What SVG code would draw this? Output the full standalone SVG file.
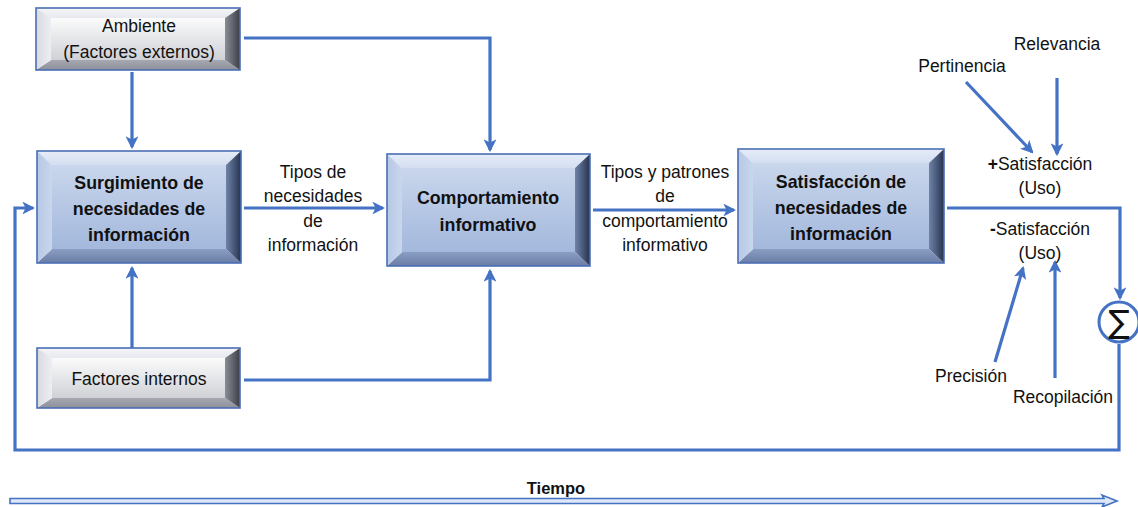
<svg xmlns="http://www.w3.org/2000/svg" width="1138" height="507" viewBox="0 0 1138 507">
<defs>
<style>
.t{font-family:"Liberation Sans",Arial,sans-serif;font-size:17.5px;fill:#111;text-anchor:middle}
.b{font-family:"Liberation Sans",Arial,sans-serif;font-size:17.8px;font-weight:bold;fill:#111;text-anchor:middle}
.c{fill:none;stroke:#4472C4;stroke-width:3.2;stroke-linejoin:miter}
.ca{fill:none;stroke:#4472C4;stroke-width:3.2;stroke-linejoin:miter;marker-end:url(#ah)}
.edge{fill:none;stroke:#4a6fb5;stroke-width:1.6}
</style>
<marker id="ah" viewBox="0 0 12 12" refX="10" refY="6" markerWidth="4" markerHeight="4" orient="auto" markerUnits="strokeWidth">
<path d="M0,0 L12,6 L0,12 L3,6 Z" fill="#4472C4"/>
</marker>
<linearGradient id="faceB" x1="0" y1="0" x2="0" y2="1"><stop offset="0" stop-color="#c9d6ec"/><stop offset="1" stop-color="#a3b8dc"/></linearGradient>
<linearGradient id="topB" x1="0" y1="0" x2="0" y2="1"><stop offset="0" stop-color="#e6edf8"/><stop offset="1" stop-color="#d3def0"/></linearGradient>
<linearGradient id="leftB" x1="0" y1="0" x2="1" y2="0"><stop offset="0" stop-color="#b7c8e6"/><stop offset="1" stop-color="#c9d6ec"/></linearGradient>
<linearGradient id="rightB" x1="0" y1="0" x2="1" y2="0"><stop offset="0" stop-color="#6f83a8"/><stop offset="1" stop-color="#26334f"/></linearGradient>
<linearGradient id="botB" x1="0" y1="0" x2="0" y2="1"><stop offset="0" stop-color="#8a9dc2"/><stop offset="1" stop-color="#6a7ea6"/></linearGradient>
<linearGradient id="faceG" x1="0" y1="0" x2="0" y2="1"><stop offset="0" stop-color="#fbfbfb"/><stop offset="1" stop-color="#cfd1d6"/></linearGradient>
<linearGradient id="topG" x1="0" y1="0" x2="0" y2="1"><stop offset="0" stop-color="#f4f5f8"/><stop offset="1" stop-color="#e8e9ee"/></linearGradient>
<linearGradient id="leftG" x1="0" y1="0" x2="1" y2="0"><stop offset="0" stop-color="#d8dae0"/><stop offset="1" stop-color="#eceef2"/></linearGradient>
<linearGradient id="rightG" x1="0" y1="0" x2="1" y2="0"><stop offset="0" stop-color="#8a8d96"/><stop offset="1" stop-color="#3b3e46"/></linearGradient>
<linearGradient id="botG" x1="0" y1="0" x2="0" y2="1"><stop offset="0" stop-color="#a6a9b1"/><stop offset="1" stop-color="#8d9099"/></linearGradient>
</defs>
<rect width="1138" height="507" fill="#ffffff"/>

<g id="connectors">
<path class="ca" d="M132,72 V147"/>
<path class="ca" d="M244,38 H490 V150"/>
<path class="ca" d="M244,208 H383"/>
<path class="ca" d="M132,348 V268"/>
<path class="ca" d="M244,380 H490 V271"/>
<path class="ca" d="M593,210 H734"/>
<path class="ca" d="M947,208 H1120 V298"/>
<path class="ca" d="M1119,344 V450 H15 V208 H33"/>
<path class="ca" d="M966,82 L1032,152"/>
<path class="ca" d="M1057,78 V154"/>
<path class="ca" d="M995,362 L1023,268"/>
<path class="ca" d="M1055,378 V262"/>
</g>

<g id="sum">
<circle cx="1119" cy="322" r="20" fill="#ffffff" stroke="#4472C4" stroke-width="3"/>
<text x="1119" y="333" style="font-family:'DejaVu Sans',sans-serif;font-size:32px;fill:#111;text-anchor:middle">∑</text>
</g>

<g id="ambiente">
<polygon points="36,8 240,8 225,18 51,18" fill="url(#topG)"/>
<polygon points="36,70 240,70 225,60 51,60" fill="url(#botG)"/>
<polygon points="36,8 51,18 51,60 36,70" fill="url(#leftG)"/>
<polygon points="240,8 225,18 225,60 240,70" fill="url(#rightG)"/>
<rect x="51" y="18" width="174" height="42" fill="url(#faceG)"/>
<rect x="36" y="8" width="204" height="62" class="edge"/>
<text class="t" x="139" y="32">Ambiente</text>
<text class="t" x="139" y="58">(Factores externos)</text>
</g>

<g id="surgimiento">
<polygon points="37,151 241,151 226,165 52,165" fill="url(#topB)"/>
<polygon points="37,263 241,263 226,249 52,249" fill="url(#botB)"/>
<polygon points="37,151 52,165 52,249 37,263" fill="url(#leftB)"/>
<polygon points="241,151 226,165 226,249 241,263" fill="url(#rightB)"/>
<rect x="52" y="165" width="174" height="84" fill="url(#faceB)"/>
<rect x="37" y="151" width="204" height="112" class="edge"/>
<text class="b" x="139" y="189">Surgimiento de</text>
<text class="b" x="139" y="215">necesidades de</text>
<text class="b" x="139" y="241">información</text>
</g>

<g id="comportamiento">
<polygon points="387,154 590,154 575,168 402,168" fill="url(#topB)"/>
<polygon points="387,266 590,266 575,252 402,252" fill="url(#botB)"/>
<polygon points="387,154 402,168 402,252 387,266" fill="url(#leftB)"/>
<polygon points="590,154 575,168 575,252 590,266" fill="url(#rightB)"/>
<rect x="402" y="168" width="173" height="84" fill="url(#faceB)"/>
<rect x="387" y="154" width="203" height="112" class="edge"/>
<text class="b" x="488" y="204">Comportamiento</text>
<text class="b" x="488" y="231">informativo</text>
</g>

<g id="satisfaccion">
<polygon points="738,149 944,149 929,163 753,163" fill="url(#topB)"/>
<polygon points="738,263 944,263 929,249 753,249" fill="url(#botB)"/>
<polygon points="738,149 753,163 753,249 738,263" fill="url(#leftB)"/>
<polygon points="944,149 929,163 929,249 944,263" fill="url(#rightB)"/>
<rect x="753" y="163" width="176" height="86" fill="url(#faceB)"/>
<rect x="738" y="149" width="206" height="114" class="edge"/>
<text class="b" x="841" y="188">Satisfacción de</text>
<text class="b" x="841" y="214">necesidades de</text>
<text class="b" x="841" y="240">información</text>
</g>

<g id="factores-internos">
<polygon points="37,348 240,348 225,358 52,358" fill="url(#topG)"/>
<polygon points="37,408 240,408 225,398 52,398" fill="url(#botG)"/>
<polygon points="37,348 52,358 52,398 37,408" fill="url(#leftG)"/>
<polygon points="240,348 225,358 225,398 240,408" fill="url(#rightG)"/>
<rect x="52" y="358" width="173" height="40" fill="url(#faceG)"/>
<rect x="37" y="348" width="203" height="60" class="edge"/>
<text class="t" x="139" y="385">Factores internos</text>
</g>

<g id="label-tipos-necesidades">
<text class="t" x="313" y="178">Tipos de</text>
<text class="t" x="313" y="202">necesidades</text>
<text class="t" x="313" y="227">de</text>
<text class="t" x="313" y="251">información</text>
</g>

<g id="label-tipos-patrones">
<text class="t" x="665" y="178">Tipos y patrones</text>
<text class="t" x="665" y="202">de</text>
<text class="t" x="665" y="227">comportamiento</text>
<text class="t" x="665" y="251">informativo</text>
</g>

<g id="plus-satisfaccion">
<text class="t" x="1040" y="170"><tspan font-weight="bold">+</tspan>Satisfacción</text>
<text class="t" x="1040" y="194">(Uso)</text>
</g>
<g id="minus-satisfaccion">
<text class="t" x="1040" y="235"><tspan font-weight="bold">-</tspan>Satisfacción</text>
<text class="t" x="1040" y="259">(Uso)</text>
</g>

<g id="factors">
<text class="t" x="962" y="72">Pertinencia</text>
<text class="t" x="1057" y="50">Relevancia</text>
<text class="t" x="971" y="382">Precisión</text>
<text class="t" x="1063" y="403">Recopilación</text>
</g>

<g id="tiempo">
<text x="556" y="494" style="font-family:'Liberation Sans',Arial,sans-serif;font-size:16.5px;font-weight:bold;fill:#111;text-anchor:middle">Tiempo</text>
<polygon points="10,498.5 1104,498.5 1102,495 1117,501 1102,507 1104,503.5 10,503.5" fill="#dfe8f6" stroke="#4472C4" stroke-width="1.6" stroke-linejoin="miter"/>
</g>
</svg>
